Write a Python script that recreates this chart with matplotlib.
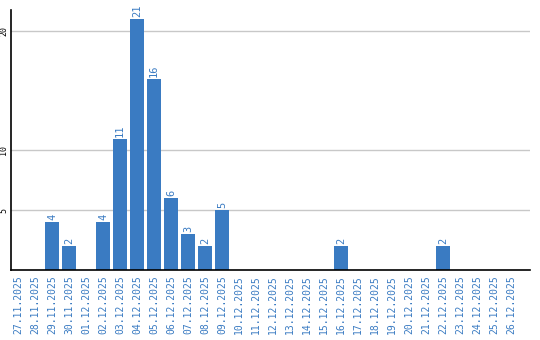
import matplotlib
matplotlib.use("Agg")
import matplotlib.pyplot as plt

dates = ["27.11.2025", "28.11.2025", "29.11.2025", "30.11.2025", "01.12.2025",
         "02.12.2025", "03.12.2025", "04.12.2025", "05.12.2025", "06.12.2025",
         "07.12.2025", "08.12.2025", "09.12.2025", "10.12.2025", "11.12.2025",
         "12.12.2025", "13.12.2025", "14.12.2025", "15.12.2025", "16.12.2025",
         "17.12.2025", "18.12.2025", "19.12.2025", "20.12.2025", "21.12.2025",
         "22.12.2025", "23.12.2025", "24.12.2025", "25.12.2025", "26.12.2025"]
values = [0, 0, 4, 2, 0, 4, 11, 21, 16, 6, 3, 2, 5, 0, 0,
          0, 0, 0, 0, 2, 0, 0, 0, 0, 0, 2, 0, 0, 0, 0]
yticks = [5, 10, 20]

blue = "#3a7bc2"
fig = plt.figure(figsize=(5.4, 3.4), dpi=100)
ax = fig.add_axes([11/540, 70/340, (530-11)/540, (270-10)/340])
x = list(range(len(dates)))
ax.bar(x, values, width=0.82, color=blue, zorder=2)
for xi, v in zip(x, values):
    if v > 0:
        ax.text(xi, v + 0.15, str(v), rotation=90, ha="center", va="bottom",
                color=blue, fontsize=7.5, family="DejaVu Sans Mono")
ax.set_xlim(-0.41, 30.1)
ax.set_ylim(0, 21.75)
ax.set_yticks(yticks)
ax.set_yticklabels([str(t) for t in yticks], rotation=90, va="center",
                   fontsize=6, family="DejaVu Sans Mono")
ax.set_xticks(x)
ax.set_xticklabels(dates, rotation=90, fontsize=7, color=blue,
                   family="DejaVu Sans Mono")
ax.tick_params(axis="both", length=0, pad=2)
ax.tick_params(axis="x", pad=4)
ax.grid(axis="y", color="#c8c8c8", linewidth=1, zorder=0)
for s in ["top", "right"]:
    ax.spines[s].set_visible(False)
ax.spines["left"].set_color("black")
ax.spines["bottom"].set_color("black")
ax.spines["left"].set_linewidth(1.2)
ax.spines["bottom"].set_linewidth(1.2)
fig.savefig("out.png", dpi=100)
